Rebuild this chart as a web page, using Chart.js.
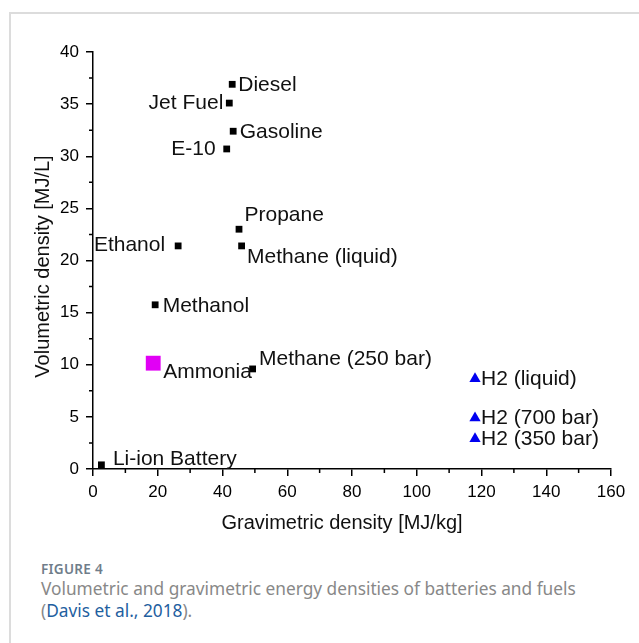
<!DOCTYPE html>
<html><head><meta charset="utf-8">
<script src="https://cdn.jsdelivr.net/npm/chart.js@4.4.1/dist/chart.umd.min.js"></script>
<style>
html,body{margin:0;padding:0;background:#fff;width:639px;height:643px;overflow:hidden;}
#card{position:absolute;left:9px;top:12px;width:700px;height:700px;border-left:2px solid #dcdcdc;border-top:2px solid #dcdcdc;}
#wrap{position:absolute;left:0;top:0;width:639px;height:545px;}
#cap{position:absolute;left:41px;top:560px;font-family:"Noto Sans",sans-serif;}
.fig{font-size:13.5px;font-weight:600;color:#6f7d8a;letter-spacing:0.3px;line-height:18px;}
.txt{font-size:17.3px;color:#888888;line-height:22px;font-weight:400;}
.txt a{color:#1f5f9f;text-decoration:none;}
</style></head>
<body>
<div id="card"></div>
<div id="wrap"><canvas id="c" width="639" height="545"></canvas></div>
<div id="cap">
<div class="fig">FIGURE 4</div>
<div class="txt">Volumetric and gravimetric energy densities of batteries and fuels<br>(<a>Davis et al., 2018</a>).</div>
</div>
<script>
// ---- data ----
const fuelNames = ['Diesel','Jet Fuel','Gasoline','E-10','Propane','Methane (liquid)','Ethanol','Methanol','Methane (250 bar)','Li-ion Battery'];
const fuelGravimetric = [43.0, 42.1, 43.3, 41.3, 45.1, 45.9, 26.3, 19.2, 49.3, 2.6];
const fuelVolumetric  = [36.9, 35.1, 32.4, 30.7, 23.0, 21.4, 21.4, 15.75, 9.6, 0.4];
const ammoniaNames = ['Ammonia'];
const ammoniaGravimetric = [18.6];
const ammoniaVolumetric  = [10.15];
const h2Names = ['H2 (liquid)','H2 (700 bar)','H2 (350 bar)'];
const h2Gravimetric = [118, 118, 118];
const h2Volumetric  = [8.65, 4.9, 2.9];
const xAxisTitle = 'Gravimetric density [MJ/kg]';
const yAxisTitle = 'Volumetric density [MJ/L]';

// ---- label placement styling (pixel offsets from each marker) ----
const labelStyle = {
  'Diesel':            {dx: 6,   dy: 2,   align: 'left'},
  'Jet Fuel':          {dx: -6,  dy: 1,   align: 'right'},
  'Gasoline':          {dx: 6.5, dy: 1.5, align: 'left'},
  'E-10':              {dx: -11, dy: 1.5, align: 'right'},
  'Propane':           {dx: 5.5, dy: -13, align: 'left'},
  'Methane (liquid)':  {dx: 5.5, dy: 12.5,align: 'left'},
  'Ethanol':           {dx: -13, dy: 0,   align: 'right'},
  'Methanol':          {dx: 7.5, dy: 2.5, align: 'left'},
  'Methane (250 bar)': {dx: 6.5, dy: -9,  align: 'left'},
  'Li-ion Battery':    {dx: 11.5,dy: -4.5,align: 'left'},
  'Ammonia':           {dx: 10,  dy: 10.5,align: 'left'},
  'H2 (liquid)':       {dx: 6,   dy: 1.5, align: 'left'},
  'H2 (700 bar)':      {dx: 6,   dy: 1.5, align: 'left'},
  'H2 (350 bar)':      {dx: 6,   dy: 1.5, align: 'left'}
};
const FONT = '"Liberation Sans", Arial, sans-serif';

function pts(xs, ys){ return xs.map((x,i)=>({x:x, y:ys[i]})); }

const pointLabels = {
  id: 'pointLabels',
  afterDatasetsDraw(chart){
    const ctx = chart.ctx;
    ctx.save();
    ctx.font = '21px ' + FONT;
    ctx.fillStyle = '#111';
    ctx.textBaseline = 'middle';
    chart.data.datasets.forEach((ds, di) => {
      const meta = chart.getDatasetMeta(di);
      ds.names.forEach((n, i) => {
        const el = meta.data[i];
        const s = labelStyle[n];
        ctx.textAlign = s.align;
        ctx.fillText(n, el.x + s.dx, el.y + s.dy - 1);
      });
    });
    ctx.restore();
  }
};

const extras = {
  id: 'extras',
  afterDraw(chart){
    const ctx = chart.ctx, a = chart.chartArea;
    const xs = chart.scales.x, ys = chart.scales.y;
    ctx.save();
    ctx.strokeStyle = '#000'; ctx.lineWidth = 1.5;
    // minor ticks at midpoints between major ticks
    const xt = xs.ticks.map(t=>t.value), yt = ys.ticks.map(t=>t.value);
    ctx.beginPath();
    for (let i=0;i<xt.length-1;i++){
      const px = xs.getPixelForValue((xt[i]+xt[i+1])/2);
      ctx.moveTo(px, a.bottom); ctx.lineTo(px, a.bottom+4);
    }
    for (let i=0;i<yt.length-1;i++){
      const py = ys.getPixelForValue((yt[i]+yt[i+1])/2);
      ctx.moveTo(a.left, py); ctx.lineTo(a.left-4, py);
    }
    ctx.stroke();
    // axis titles
    ctx.fillStyle = '#111';
    ctx.font = '20px ' + FONT;
    ctx.textAlign = 'center'; ctx.textBaseline = 'middle';
    ctx.fillText(xAxisTitle, (a.left+a.right)/2 - 10, a.bottom + 54);
    ctx.translate(a.left - 50, (a.top+a.bottom)/2 + 6);
    ctx.rotate(-Math.PI/2);
    ctx.fillText(yAxisTitle, 0, 0);
    ctx.restore();
  }
};

const axisCommon = (stepSize, pad, fitFn) => ({
  type: 'linear',
  ticks: {stepSize: stepSize, color: '#000', font: {size: 17, family: FONT}, padding: pad},
  grid: {display: true, drawOnChartArea: false, drawTicks: true, tickLength: 7, color: '#000', lineWidth: 1.5},
  border: {display: true, color: '#000', width: 1.5},
  title: {display: false},
  afterFit: fitFn
});

const xAxis = axisCommon(20, 6, s => { s.height = 76; });
xAxis.min = 0; xAxis.max = 160;
const yAxis = axisCommon(5, 7, s => { s.width = 93; });
yAxis.min = 0; yAxis.max = 40;

new Chart(document.getElementById('c'), {
  type: 'scatter',
  data: {
    datasets: [
      {names: fuelNames, data: pts(fuelGravimetric, fuelVolumetric), pointStyle: 'rect', pointRadius: 4.8, pointHoverRadius: 4.8, backgroundColor: '#000', borderWidth: 0},
      {names: ammoniaNames, data: pts(ammoniaGravimetric, ammoniaVolumetric), pointStyle: 'rect', pointRadius: 10.5, pointHoverRadius: 10.5, backgroundColor: '#e100f5', borderWidth: 0},
      {names: h2Names, data: pts(h2Gravimetric, h2Volumetric), pointStyle: 'triangle', pointRadius: 6.5, pointHoverRadius: 6.5, backgroundColor: '#0000f0', borderWidth: 0}
    ]
  },
  options: {
    responsive: false, animation: false, clip: false,
    layout: {padding: {left: 0, top: 52, right: 28, bottom: 0}},
    plugins: {legend: {display: false}, tooltip: {enabled: false}},
    events: [],
    scales: {x: xAxis, y: yAxis}
  },
  plugins: [pointLabels, extras]
});
</script>
</body></html>
